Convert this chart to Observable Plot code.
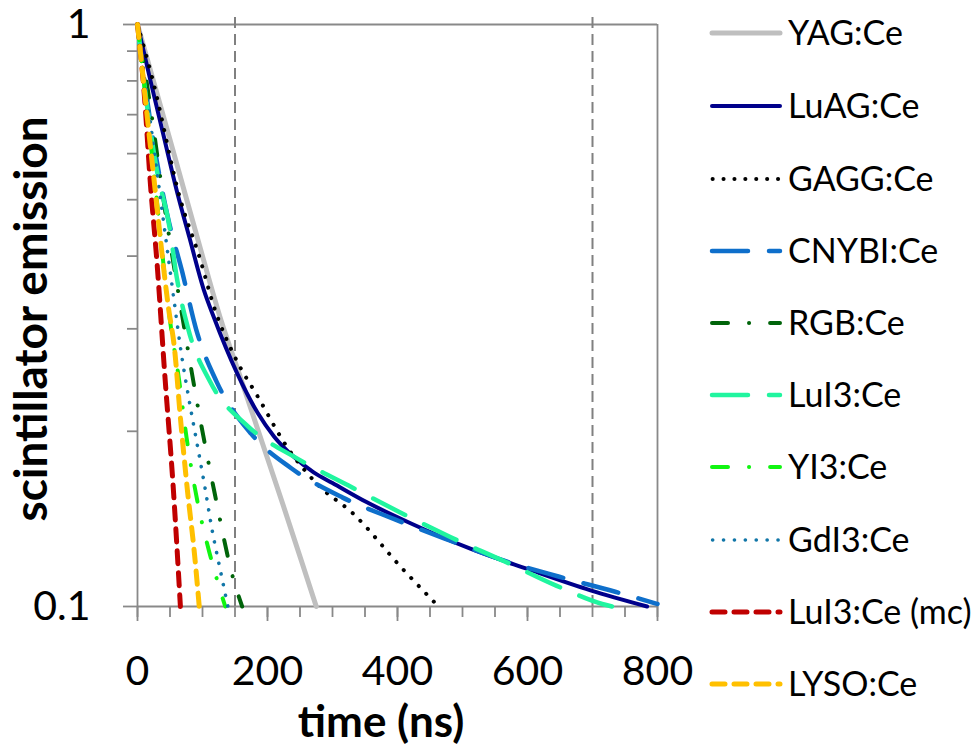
<!DOCTYPE html>
<html><head><meta charset="utf-8">
<script src="https://cdn.jsdelivr.net/npm/d3@7"></script>
<script src="https://cdn.jsdelivr.net/npm/@observablehq/plot@0.6"></script>
<style>
body{margin:0;background:#fff;}
#chart{position:relative;width:980px;height:745px;overflow:hidden;}
</style></head><body><div id="chart"></div>
<script>
// ---- data ----
const seriesNames = ["YAG:Ce","LuAG:Ce","GAGG:Ce","CNYBI:Ce","RGB:Ce","LuI3:Ce","YI3:Ce","GdI3:Ce","LuI3:Ce (mc)","LYSO:Ce"];
const yagTime   = [0,24.5,56,100,128.6,157,186,223.5,252,275];
const yagValue  = [1,0.8,0.6,0.4,0.31,0.25,0.2,0.15,0.12,0.1];
const luagTime  = [0,20,40,61,80,102,117,153,185,210,240,271,300,353,420,512,600,697,784];
const luagValue = [1,0.8,0.645,0.515,0.43,0.35,0.315,0.252,0.215,0.196,0.181,0.170,0.163,0.151,0.139,0.1257,0.116,0.1066,0.1];
const gaggTime  = [0,22.6,66,97,117,153,184,230,276,333,405,463];
const gaggValue = [1,0.81,0.5,0.393,0.329,0.264,0.2305,0.188,0.1625,0.144,0.117,0.1];
const cnybiTime = [0,15,30,46,69,90,122,175,236,315,397,479,563,649,735,800];
const cnybiValue= [1,0.74,0.58,0.47,0.375,0.30,0.243,0.198,0.173,0.154,0.141,0.13,0.12,0.1125,0.106,0.101];
const rgbTime   = [0,20,40,70,93,118.5,147,161];
const rgbValue  = [1,0.72,0.5,0.31,0.22,0.157,0.112,0.1];
const lui3Time  = [0,15,30,49,60,78,112,170,244,324,402,482,565,645,715,730];
const lui3Value = [1,0.72,0.56,0.45,0.37,0.30,0.243,0.204,0.18,0.1615,0.1455,0.1315,0.1195,0.1085,0.101,0.1];
const yi3Time   = [0,25,50,64,75.5,90.5,110.5,121.5,135];
const yi3Value  = [1,0.56,0.31,0.245,0.195,0.155,0.124,0.112,0.1];
const gdi3Time  = [0,28,57,66,79.5,91.8,103,115,127.7,139];
const gdi3Value = [1,0.58,0.331,0.279,0.226,0.19,0.162,0.135,0.115,0.1];
const mcTime    = [0,10,20,30,42,55,66];
const mcValue   = [1,0.77,0.53,0.39,0.25,0.16,0.1];
const lysoTime  = [0,24,48,57,66,76.4,87.7,95];
const lysoValue = [1,0.56,0.324,0.277,0.211,0.16,0.123,0.1];

const markerTimes = [150, 700];
const markerRange = [0.1, 1.032];
const xMajorTicks = [0,200,400,600,800];
const xTickLabels = ["0","200","400","600","800"];
const xMinorTicks = [0,50,100,150,200,250,300,350,400,450,500,550,600,650,700,750,800];
const yMajorTicks = [0.1,1];
const yTickLabels = ["0.1","1"];
const yMinorTicks = [0.2,0.3,0.4,0.5,0.6,0.7,0.8,0.9];
const xTitle = "time (ns)";
const yTitle = "scintillator emission";

// ---- styles ----
const seriesColors = ["#BFBFBF","#00008B","#000000","#0E6FCB","#00640A","#20F59F","#11F511","#1176A8","#C00000","#FFC000"];
const seriesWidths = [5,4,4,4.5,4,4.5,4,3.6,5,5];
const seriesDash   = [null,null,"0.1,10.8","36,21","16,21,0.1,21","36,21","16,21,0.1,21","0.1,10.8","13,9","13,9"];

const seriesData = [
  [yagTime,yagValue],[luagTime,luagValue],[gaggTime,gaggValue],[cnybiTime,cnybiValue],
  [rgbTime,rgbValue],[lui3Time,lui3Value],[yi3Time,yi3Value],[gdi3Time,gdi3Value],
  [mcTime,mcValue],[lysoTime,lysoValue]
];

const gray = "#898989";
const FONT = "Lato, 'Open Sans', sans-serif";

const lineMarks = seriesData.map(([ts, vs], i) =>
  Plot.line(ts.map((t, j) => ({t, v: vs[j]})), {
    x: "t", y: "v", curve: "monotone-x",
    stroke: seriesColors[i], strokeWidth: seriesWidths[i],
    strokeDasharray: seriesDash[i] ?? undefined,
    strokeLinecap: "round", strokeLinejoin: "round"
  })
);

const plot = Plot.plot({
  width: 980, height: 745,
  marginLeft: 137, marginRight: 323, marginTop: 24, marginBottom: 139,
  x: {domain: [0, 800]},
  y: {type: "log", domain: [0.1, 1]},
  style: {fontFamily: FONT, background: "white", overflow: "visible", color: "black"},
  marks: [
    Plot.ruleY(yMajorTicks, {x1: 0, x2: 800, stroke: gray, strokeWidth: 1.8}),
    Plot.ruleX([0, 800], {y1: 0.1, y2: 1, stroke: gray, strokeWidth: 1.8}),
    Plot.ruleX(markerTimes, {y1: markerRange[0], y2: markerRange[1], stroke: "#808080", strokeWidth: 2, strokeDasharray: "11,6"}),
    Plot.axisY(yMinorTicks, {tickSize: 10, tickFormat: () => "", stroke: gray, strokeWidth: 1.8, label: null}),
    Plot.axisY(yMajorTicks, {tickSize: 14, tickPadding: 33, tickFormat: d => yTickLabels[yMajorTicks.indexOf(d)],
      stroke: gray, strokeWidth: 1.8, fill: "black", fontSize: 41, label: null}),
    Plot.axisX(xMinorTicks, {tickSize: 11, tickFormat: () => "", stroke: gray, strokeWidth: 1.8, label: null}),
    Plot.axisX(xMajorTicks, {tickSize: 15, tickPadding: 34, tickFormat: d => xTickLabels[xMajorTicks.indexOf(d)],
      stroke: gray, strokeWidth: 1.8, fill: "black", fontSize: 41, label: null}),
    ...lineMarks
  ]
});

document.getElementById("chart").appendChild(plot);

const svg = d3.select(plot);
// axis titles
svg.append("text").text(xTitle)
  .attr("x", 381).attr("y", 737).attr("text-anchor", "middle")
  .attr("font-family", FONT).attr("font-weight", "bold").attr("font-size", 44).attr("fill", "black");
svg.append("text").text(yTitle)
  .attr("transform", "translate(47,319) rotate(-90)").attr("text-anchor", "middle")
  .attr("font-family", FONT).attr("font-weight", "bold").attr("font-size", 46).attr("fill", "black");

// legend
const legendY = [33,106,179,251,323,395,467,540,612,684];
const lg = svg.append("g").attr("text-anchor", "start");
seriesNames.forEach((name, i) => {
  const y = legendY[i];
  const dotted = seriesDash[i] && seriesDash[i].startsWith("0.1");
  lg.append("line")
    .attr("x1", dotted ? 712.6 : 712).attr("x2", 780).attr("y1", y).attr("y2", y)
    .attr("stroke", seriesColors[i]).attr("stroke-width", seriesWidths[i])
    .attr("stroke-dasharray", seriesDash[i]).attr("stroke-linecap", "round");
  lg.append("text").text(name)
    .attr("x", 788).attr("y", y + 12).attr("text-anchor", "start")
    .attr("font-family", FONT).attr("font-size", 34).attr("fill", "black");
});
</script>
</body></html>
